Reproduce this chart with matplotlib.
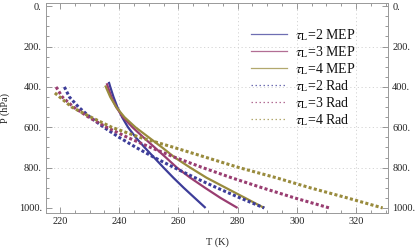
import matplotlib
matplotlib.use("Agg")
import matplotlib.pyplot as plt
from matplotlib.ticker import MultipleLocator, FixedLocator, FuncFormatter
from matplotlib.lines import Line2D

plt.rcParams['font.family'] = ['Liberation Serif', 'DejaVu Serif']
plt.rcParams['mathtext.fontset'] = 'stix'

# ---- data (T in K, P in hPa) ----
P_mep2 = [375, 400, 450, 500, 550, 600, 650, 700, 750, 800, 850, 900, 950, 1000]
T_mep2 = [236.5, 237.0, 238.1, 239.4, 241.0, 243.0, 245.6, 248.6, 251.8, 255.0, 258.3, 261.8, 265.5, 269.2]

P_mep3 = [382, 400, 450, 500, 550, 600, 650, 700, 750, 800, 850, 900, 950, 1000]
T_mep3 = [235.8, 236.2, 237.4, 239.0, 241.3, 244.5, 248.2, 252.0, 255.8, 259.5, 264.0, 269.0, 274.2, 280.0]

P_mep4 = [393, 450, 500, 550, 600, 650, 700, 750, 800, 850, 900, 950, 1000]
T_mep4 = [235.3, 237.0, 239.0, 241.8, 245.5, 250.0, 254.5, 258.8, 264.0, 269.5, 276.0, 282.5, 289.0]

P_rad2 = [400, 450, 500, 550, 600, 650, 700, 750, 800, 850, 900, 950, 1000]
T_rad2 = [221.5, 223.2, 226.3, 230.2, 234.8, 240.0, 245.7, 251.9, 258.6, 265.6, 273.0, 280.8, 289.0]

P_rad3 = [400, 450, 500, 550, 600, 650, 700, 750, 800, 850, 900, 950, 1000]
T_rad3 = [218.7, 220.8, 224.6, 229.7, 235.8, 242.8, 250.6, 259.0, 268.2, 277.9, 288.3, 299.2, 311.0]

P_rad4 = [430, 500, 550, 600, 650, 700, 750, 800, 850, 900, 950, 1000]
T_rad4 = [218.3, 224.0, 230.5, 237.5, 247.0, 258.5, 269.5, 280.5, 293.0, 304.5, 317.0, 329.0]

labels = [r'$\tau_{\rm L}$=2 MEP', r'$\tau_{\rm L}$=3 MEP', r'$\tau_{\rm L}$=4 MEP',
          r'$\tau_{\rm L}$=2 Rad', r'$\tau_{\rm L}$=3 Rad', r'$\tau_{\rm L}$=4 Rad']

x_ticks = [220, 240, 260, 280, 300, 320]
y_ticks = [0, 200, 400, 600, 800, 1000]

c_blue = (0.24, 0.24, 0.6)
c_mag = (0.6, 0.24, 0.4428)
c_olv = (0.6, 0.547, 0.24)

fig = plt.figure(figsize=(4.15, 2.48), dpi=100)
ax = fig.add_axes([46/415, 1-213/248, (388-46)/415, (213-3)/248])

dot = (0, (1.0, 0.75))
lw_s = 1.6
lw_d = 2.2
ax.plot(T_mep2, P_mep2, color=c_blue, lw=lw_s, solid_capstyle='butt', zorder=3)
ax.plot(T_mep3, P_mep3, color=c_mag, lw=lw_s, solid_capstyle='butt', zorder=3)
ax.plot(T_mep4, P_mep4, color=c_olv, lw=lw_s, solid_capstyle='butt', zorder=3)
ax.plot(T_rad2, P_rad2, color=c_blue, lw=lw_d, ls=dot, dash_capstyle='butt', zorder=3)
ax.plot(T_rad3, P_rad3, color=c_mag, lw=lw_d, ls=dot, dash_capstyle='butt', zorder=3)
ax.plot(T_rad4, P_rad4, color=c_olv, lw=lw_d, ls=dot, dash_capstyle='butt', zorder=3)

ax.set_xlim(215.3, 330.8)
ax.set_ylim(1025, -16)

ax.xaxis.set_major_locator(FixedLocator(x_ticks))
ax.xaxis.set_minor_locator(MultipleLocator(5))
ax.yaxis.set_major_locator(FixedLocator(y_ticks))
ax.yaxis.set_minor_locator(MultipleLocator(50))
ax.yaxis.set_major_formatter(FuncFormatter(lambda v, p: f"{int(v)}."))

ax.tick_params(which='both', direction='in', top=True, right=True, labelright=True,
               colors='#888888', labelcolor='#222222', labelsize=7.5, width=0.6)
ax.tick_params(which='major', length=4, pad=3)
ax.tick_params(which='minor', length=2)
for s in ax.spines.values():
    s.set_color('#999999')
    s.set_linewidth(0.7)

for x in [240, 260, 280, 300, 320]:
    ax.axvline(x, color='#d0d0d0', lw=0.6, ls=(0, (1.5, 3)), zorder=1)
for y in [200, 400, 600, 800]:
    ax.axhline(y, color='#d0d0d0', lw=0.6, ls=(0, (1.5, 3)), zorder=1)

ax.set_xlabel('T (K)', fontsize=7.5, color='#222222', labelpad=8)
ax.set_ylabel('P (hPa)', fontsize=7.5, color='#222222', labelpad=6)

handles = [Line2D([], [], color=c_blue, lw=0.9, alpha=0.75),
           Line2D([], [], color=c_mag, lw=0.9, alpha=0.75),
           Line2D([], [], color=c_olv, lw=0.9, alpha=0.75),
           Line2D([], [], color=c_blue, lw=0.9, alpha=0.75, ls=(0, (1.2, 2.0))),
           Line2D([], [], color=c_mag, lw=0.9, alpha=0.75, ls=(0, (1.2, 2.0))),
           Line2D([], [], color=c_olv, lw=0.9, alpha=0.75, ls=(0, (1.2, 2.0)))]
leg = ax.legend(handles, labels, loc='upper left', bbox_to_anchor=(251/415, 1-27/248),
                bbox_transform=fig.transFigure, frameon=False, fontsize=10,
                borderpad=0, borderaxespad=0, handlelength=2.6, handletextpad=0.6,
                labelspacing=0.09)
for t in leg.get_texts():
    t.set_color('#111111')

fig.savefig('out.png', dpi=100)
